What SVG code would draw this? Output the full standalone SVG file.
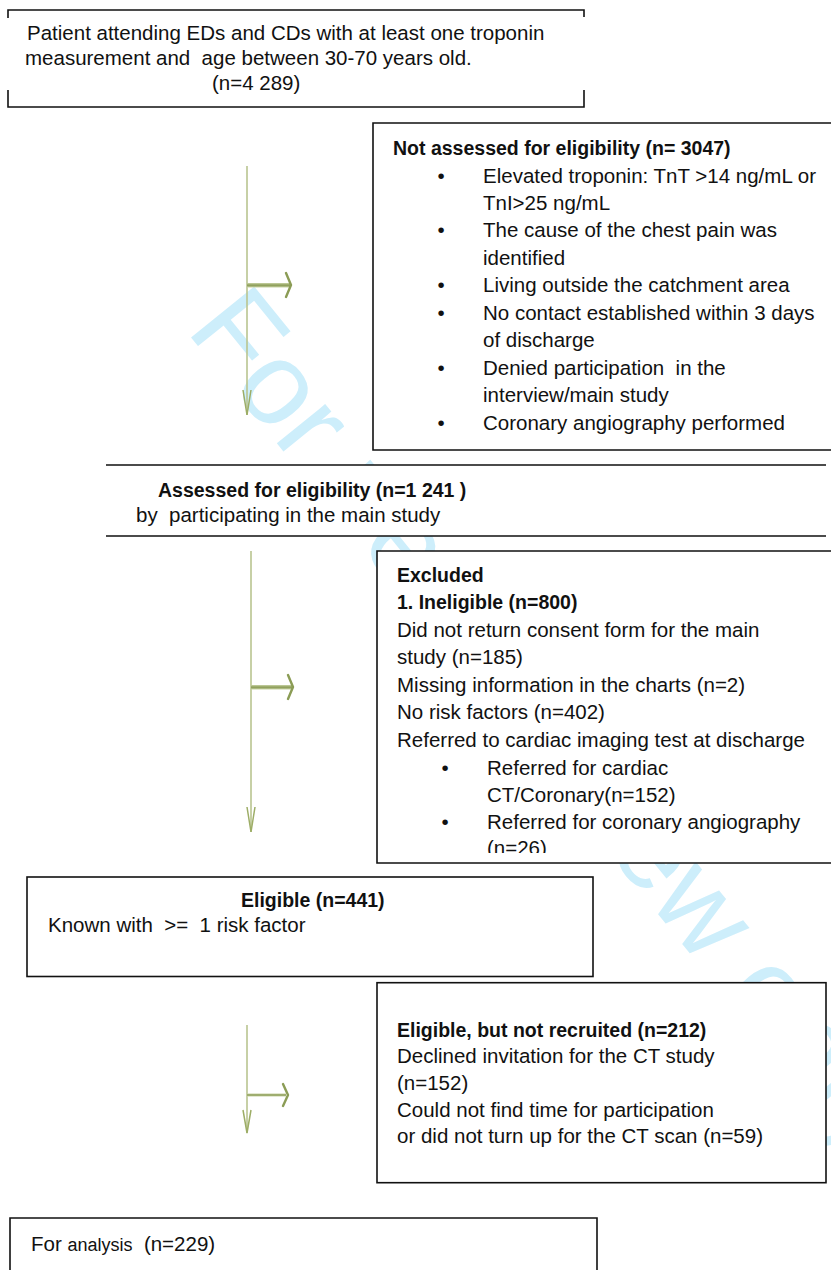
<svg xmlns="http://www.w3.org/2000/svg" width="831" height="1270" viewBox="0 0 831 1270">
<style>
 text { font-family: "Liberation Sans", Arial, sans-serif; font-size: 20.5px; fill: #111; }
 .b { font-weight: bold; font-size: 19.5px; }
 .bul { text-anchor: middle; }
 .bg { fill: #fff; stroke: none; }
 .edge { fill: none; stroke: #111; stroke-width: 1.6; }
 .wm { font-family: "Liberation Sans", Arial, sans-serif; font-size: 118px; fill: #cdeefb; }
 .vline { stroke: #b9c590; stroke-width: 1.6; fill: none; }
 .vhead { stroke: #9dad66; stroke-width: 1.5; fill: none; }
 .hhead { stroke: #8b9c55; stroke-width: 2.4; fill: none; stroke-linecap: round; stroke-linejoin: round; }
</style>
<defs>
 <linearGradient id="hg" x1="0" y1="0" x2="0" y2="1">
  <stop offset="0" stop-color="#c9d3a6"/>
  <stop offset="0.5" stop-color="#8a9b55"/>
  <stop offset="1" stop-color="#c9d3a6"/>
 </linearGradient>
 <clipPath id="clipA"><rect x="100" y="465" width="731" height="61"/></clipPath>
 <clipPath id="clipB"><rect x="377" y="551" width="454" height="302"/></clipPath>
</defs>
<rect width="831" height="1270" fill="#fff"/>

<g id="watermark">
 <text class="wm" transform="translate(185,330) rotate(51)">For peer review only</text>
</g>

<g id="connectors">
 <path class="vline" d="M247 166 V415"/>
 <polyline class="vhead" points="243,390 247,415 251,390"/>
 <rect x="247" y="283" width="43" height="4.5" fill="url(#hg)"/>
 <polyline class="hhead" points="286,273 291,285 286,297"/>

 <path class="vline" d="M251 551 V832"/>
 <polyline class="vhead" points="247,807 251,832 255,807"/>
 <rect x="251" y="685" width="41" height="4.5" fill="url(#hg)"/>
 <polyline class="hhead" points="288,675 293,687 288,699"/>

 <path class="vline" d="M247 1025 V1133"/>
 <polyline class="vhead" points="243,1110 247,1133 251,1110"/>
 <rect x="247" y="1093.5" width="39" height="3" fill="url(#hg)"/>
 <polyline class="hhead" points="283,1084 288,1095 283,1106"/>
</g>

<g id="n1">
 <rect class="bg" x="8" y="10" width="576" height="97"/>
 <path class="edge" d="M8 18 V10 H584 V17 M8 90 V107 H584 V90"/>
 <text x="27" y="40">Patient attending EDs and CDs with at least one troponin</text>
 <text x="25" y="65" xml:space="preserve">measurement and  age between 30-70 years old.</text>
 <text x="212" y="90">(n=4 289)</text>
</g>

<g id="n2">
 <rect class="bg" x="373" y="123" width="470" height="327"/>
 <path class="edge" d="M831 123 H373 V450 H831"/>
 <text class="b" x="393" y="155">Not assessed for eligibility (n= 3047)</text>
 <text class="bul" x="441" y="182.7">•</text>
 <text x="483" y="182.7">Elevated troponin: TnT &gt;14 ng/mL or</text>
 <text x="483" y="210">TnI&gt;25 ng/mL</text>
 <text class="bul" x="441" y="237.3">•</text>
 <text x="483" y="237.3">The cause of the chest pain was</text>
 <text x="483" y="265">identified</text>
 <text class="bul" x="441" y="292.3">•</text>
 <text x="483" y="292.3">Living outside the catchment area</text>
 <text class="bul" x="441" y="320">•</text>
 <text x="483" y="320">No contact established within 3 days</text>
 <text x="483" y="346.7">of discharge</text>
 <text class="bul" x="441" y="375">•</text>
 <text x="483" y="375" xml:space="preserve">Denied participation  in the</text>
 <text x="483" y="401.7">interview/main study</text>
 <text class="bul" x="441" y="430">•</text>
 <text x="483" y="430">Coronary angiography performed</text>
</g>

<g id="n3">
 <rect class="bg" x="106" y="465" width="720" height="71"/>
 <path class="edge" d="M106 465 H826 M106 536 H826"/>
 <text class="b" x="158" y="497">Assessed for eligibility (n=1 241 )</text>
 <text x="136" y="522" clip-path="url(#clipA)" xml:space="preserve">by  participating in the main study</text>
</g>

<g id="n4">
 <rect class="bg" x="377" y="551" width="466" height="312"/>
 <path class="edge" d="M831 551 H377 V863 H831"/>
 <text class="b" x="397" y="581.7">Excluded</text>
 <text class="b" x="397" y="609.3">1. Ineligible (n=800)</text>
 <text x="397" y="637.3">Did not return consent form for the main</text>
 <text x="397" y="664">study (n=185)</text>
 <text x="397" y="691.7">Missing information in the charts (n=2)</text>
 <text x="397" y="719.3">No risk factors (n=402)</text>
 <text x="397" y="746.7">Referred to cardiac imaging test at discharge</text>
 <text class="bul" x="445" y="775">•</text>
 <text x="487" y="775">Referred for cardiac</text>
 <text x="487" y="801.7">CT/Coronary(n=152)</text>
 <text class="bul" x="445" y="829.3">•</text>
 <text x="487" y="829.3">Referred for coronary angiography</text>
 <text x="487" y="855" clip-path="url(#clipB)">(n=26)</text>
</g>

<g id="n5">
 <rect class="edge" x="27" y="877" width="566" height="99.5" style="fill:#fff"/>
 <text class="b" x="241" y="907">Eligible (n=441)</text>
 <text x="48" y="932" xml:space="preserve">Known with  &gt;=  1 risk factor</text>
</g>

<g id="n6">
 <rect class="edge" x="377" y="982.7" width="449" height="200" style="fill:#fff"/>
 <text class="b" x="397" y="1036.5">Eligible, but not recruited (n=212)</text>
 <text x="397" y="1063">Declined invitation for the CT study</text>
 <text x="397" y="1090">(n=152)</text>
 <text x="397" y="1116.5">Could not find time for participation</text>
 <text x="397" y="1143">or did not turn up for the CT scan (n=59)</text>
</g>

<g id="n7">
 <rect class="bg" x="10" y="1218" width="587" height="60"/>
 <path class="edge" d="M10 1275 V1218 H597 V1275"/>
 <text x="31" y="1251" xml:space="preserve">For <tspan style="font-size:18px">analysis</tspan>  (n=229)</text>
</g>
</svg>
